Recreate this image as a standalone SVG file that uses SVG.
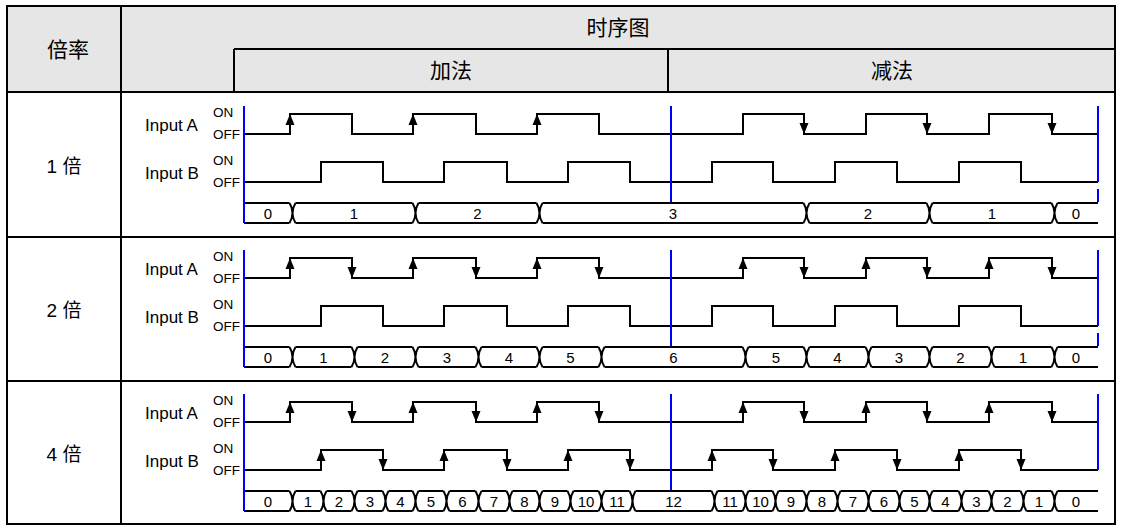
<svg xmlns="http://www.w3.org/2000/svg" xmlns:xlink="http://www.w3.org/1999/xlink" width="1122" height="526" viewBox="0 0 1122 526">
<style>
.grid{stroke:#000;stroke-width:2;fill:none}
.sig{stroke:#000;stroke-width:2;fill:none;stroke-linejoin:miter}
.blue{stroke:#0000ff;stroke-width:2;fill:none}
.cjk{font-family:"Liberation Sans","Noto Sans CJK SC",sans-serif;fill:#000}
.hd{font-size:21px;text-anchor:middle}
.rl{font-size:19px;text-anchor:middle}
.in{font-family:"Liberation Sans",Arial,sans-serif;font-size:17px;fill:#000}
.lv{font-family:"Liberation Sans",Arial,sans-serif;font-size:13.5px;fill:#000}
.cn{font-family:"Liberation Sans",Arial,sans-serif;font-size:15px;text-anchor:middle;fill:#000}
</style>
<defs>
<path id="up" d="M0,0 L-4.5,11 L4.5,11Z" fill="#000"/>
<path id="dn" d="M0,0 L-4.5,-11 L4.5,-11Z" fill="#000"/>
<g id="bx"><rect x="-3" y="-2" width="6" height="24" fill="#fff"/><path d="M-3,0 Q3,10 -3,20 M3,0 Q-3,10 3,20" stroke="#000" stroke-width="2" fill="none"/></g>
<g id="labels">
<text class="in" x="145" y="131">Input A</text>
<text class="in" x="145" y="179">Input B</text>
<text class="lv" x="213" y="117">ON</text>
<text class="lv" x="213" y="139">OFF</text>
<text class="lv" x="213" y="165">ON</text>
<text class="lv" x="213" y="187">OFF</text>
</g>
<g id="waves">
<path class="sig" d="M244,134 H290 V114 H352 V134 H413 V114 H476 V134 H537 V114 H599 V134 H743 V114 H804 V134 H866 V114 H927 V134 H989 V114 H1052 V134 H1098"/>
<path class="sig" d="M244,182 H321 V162 H383 V182 H444 V162 H507 V182 H568 V162 H630 V182 H712 V162 H773 V182 H835 V162 H897 V182 H959 V162 H1021 V182 H1098"/>
<path class="sig" d="M244,203 H1098 M244,223 H1098"/>
</g>
</defs>

<g id="table">
<rect x="7" y="6" width="1108" height="86" fill="#e6e6e6"/>
<rect x="7" y="6" width="1108" height="518" class="grid"/>
<path class="grid" d="M121,6 V524 M234,49 H1115 M234,49 V92 M668,49 V92 M7,92 H1115 M7,237 H1115 M7,381 H1115"/>
<text class="cjk hd" x="68" y="57">倍率</text>
<text class="cjk hd" x="618" y="35">时序图</text>
<text class="cjk hd" x="451" y="78">加法</text>
<text class="cjk hd" x="892" y="78">减法</text>
</g>

<g id="row1">
<text class="cjk rl" x="64" y="173">1 倍</text>
<use xlink:href="#labels"/>
<use xlink:href="#waves"/>
<g id="row1-counter">
<use xlink:href="#bx" x="292.5" y="203"/><use xlink:href="#bx" x="415.5" y="203"/><use xlink:href="#bx" x="539.5" y="203"/>
<use xlink:href="#bx" x="806.5" y="203"/><use xlink:href="#bx" x="929.5" y="203"/><use xlink:href="#bx" x="1054.5" y="203"/>
<text class="cn" x="268" y="218.5">0</text><text class="cn" x="354" y="218.5">1</text><text class="cn" x="477.5" y="218.5">2</text>
<text class="cn" x="673" y="218.5">3</text><text class="cn" x="868" y="218.5">2</text><text class="cn" x="992" y="218.5">1</text><text class="cn" x="1076" y="218.5">0</text>
</g>
<g id="row1-arrows">
<use xlink:href="#up" x="290" y="114"/><use xlink:href="#up" x="413" y="114"/><use xlink:href="#up" x="537" y="114"/>
<use xlink:href="#dn" x="804" y="134"/><use xlink:href="#dn" x="927" y="134"/><use xlink:href="#dn" x="1052" y="134"/>
</g>
<path class="blue" d="M244,106 V223 M671,106 V202 M1098,106 V182 M1098,189 V202"/>
</g>

<g id="row2" transform="translate(0,144)">
<text class="cjk rl" x="64" y="173">2 倍</text>
<use xlink:href="#labels"/>
<use xlink:href="#waves"/>
<g id="row2-counter">
<use xlink:href="#bx" x="292.5" y="203"/><use xlink:href="#bx" x="354.5" y="203"/><use xlink:href="#bx" x="415.5" y="203"/>
<use xlink:href="#bx" x="478.5" y="203"/><use xlink:href="#bx" x="539.5" y="203"/><use xlink:href="#bx" x="601.5" y="203"/>
<use xlink:href="#bx" x="745.5" y="203"/><use xlink:href="#bx" x="806.5" y="203"/><use xlink:href="#bx" x="868.5" y="203"/>
<use xlink:href="#bx" x="929.5" y="203"/><use xlink:href="#bx" x="991.5" y="203"/><use xlink:href="#bx" x="1054.5" y="203"/>
<text class="cn" x="268" y="218.5">0</text><text class="cn" x="323.5" y="218.5">1</text><text class="cn" x="385" y="218.5">2</text>
<text class="cn" x="447" y="218.5">3</text><text class="cn" x="509" y="218.5">4</text><text class="cn" x="570.5" y="218.5">5</text>
<text class="cn" x="673.5" y="218.5">6</text><text class="cn" x="776" y="218.5">5</text><text class="cn" x="837.5" y="218.5">4</text>
<text class="cn" x="899" y="218.5">3</text><text class="cn" x="960.5" y="218.5">2</text><text class="cn" x="1023" y="218.5">1</text><text class="cn" x="1076" y="218.5">0</text>
</g>
<g id="row2-arrows">
<use xlink:href="#up" x="290" y="114"/><use xlink:href="#up" x="413" y="114"/><use xlink:href="#up" x="537" y="114"/>
<use xlink:href="#up" x="743" y="114"/><use xlink:href="#up" x="866" y="114"/><use xlink:href="#up" x="989" y="114"/>
<use xlink:href="#dn" x="352" y="134"/><use xlink:href="#dn" x="476" y="134"/><use xlink:href="#dn" x="599" y="134"/>
<use xlink:href="#dn" x="804" y="134"/><use xlink:href="#dn" x="927" y="134"/><use xlink:href="#dn" x="1052" y="134"/>
</g>
<path class="blue" d="M244,106 V223 M671,106 V202 M1098,106 V182 M1098,189 V202"/>
</g>

<g id="row3" transform="translate(0,288)">
<text class="cjk rl" x="64" y="173">4 倍</text>
<use xlink:href="#labels"/>
<use xlink:href="#waves"/>
<g id="row3-counter">
<use xlink:href="#bx" x="292.5" y="203"/><use xlink:href="#bx" x="323.5" y="203"/><use xlink:href="#bx" x="354.5" y="203"/>
<use xlink:href="#bx" x="385.5" y="203"/><use xlink:href="#bx" x="415.5" y="203"/><use xlink:href="#bx" x="446.5" y="203"/>
<use xlink:href="#bx" x="478.5" y="203"/><use xlink:href="#bx" x="509.5" y="203"/><use xlink:href="#bx" x="539.5" y="203"/>
<use xlink:href="#bx" x="570.5" y="203"/><use xlink:href="#bx" x="601.5" y="203"/><use xlink:href="#bx" x="632.5" y="203"/>
<use xlink:href="#bx" x="714.5" y="203"/><use xlink:href="#bx" x="745.5" y="203"/><use xlink:href="#bx" x="775.5" y="203"/>
<use xlink:href="#bx" x="806.5" y="203"/><use xlink:href="#bx" x="837.5" y="203"/><use xlink:href="#bx" x="868.5" y="203"/>
<use xlink:href="#bx" x="899.5" y="203"/><use xlink:href="#bx" x="929.5" y="203"/><use xlink:href="#bx" x="961.5" y="203"/>
<use xlink:href="#bx" x="991.5" y="203"/><use xlink:href="#bx" x="1023.5" y="203"/><use xlink:href="#bx" x="1054.5" y="203"/>
<text class="cn" x="268" y="218.5">0</text><text class="cn" x="308" y="218.5">1</text><text class="cn" x="339" y="218.5">2</text>
<text class="cn" x="370" y="218.5">3</text><text class="cn" x="400.5" y="218.5">4</text><text class="cn" x="431" y="218.5">5</text>
<text class="cn" x="462.5" y="218.5">6</text><text class="cn" x="494" y="218.5">7</text><text class="cn" x="524.5" y="218.5">8</text>
<text class="cn" x="555" y="218.5">9</text><text class="cn" x="586" y="218.5">10</text><text class="cn" x="617" y="218.5">11</text>
<text class="cn" x="673.5" y="218.5">12</text>
<text class="cn" x="730" y="218.5">11</text><text class="cn" x="760.5" y="218.5">10</text><text class="cn" x="791" y="218.5">9</text>
<text class="cn" x="822" y="218.5">8</text><text class="cn" x="853" y="218.5">7</text><text class="cn" x="884" y="218.5">6</text>
<text class="cn" x="914.5" y="218.5">5</text><text class="cn" x="945.5" y="218.5">4</text><text class="cn" x="976.5" y="218.5">3</text>
<text class="cn" x="1007.5" y="218.5">2</text><text class="cn" x="1039" y="218.5">1</text><text class="cn" x="1076" y="218.5">0</text>
</g>
<g id="row3-arrows">
<use xlink:href="#up" x="290" y="114"/><use xlink:href="#up" x="413" y="114"/><use xlink:href="#up" x="537" y="114"/>
<use xlink:href="#up" x="743" y="114"/><use xlink:href="#up" x="866" y="114"/><use xlink:href="#up" x="989" y="114"/>
<use xlink:href="#dn" x="352" y="134"/><use xlink:href="#dn" x="476" y="134"/><use xlink:href="#dn" x="599" y="134"/>
<use xlink:href="#dn" x="804" y="134"/><use xlink:href="#dn" x="927" y="134"/><use xlink:href="#dn" x="1052" y="134"/>
<use xlink:href="#up" x="321" y="162"/><use xlink:href="#up" x="444" y="162"/><use xlink:href="#up" x="568" y="162"/>
<use xlink:href="#up" x="712" y="162"/><use xlink:href="#up" x="835" y="162"/><use xlink:href="#up" x="959" y="162"/>
<use xlink:href="#dn" x="383" y="182"/><use xlink:href="#dn" x="507" y="182"/><use xlink:href="#dn" x="630" y="182"/>
<use xlink:href="#dn" x="773" y="182"/><use xlink:href="#dn" x="897" y="182"/><use xlink:href="#dn" x="1021" y="182"/>
</g>
<path class="blue" d="M244,106 V223 M671,106 V202 M1098,106 V182"/>
</g>
</svg>
